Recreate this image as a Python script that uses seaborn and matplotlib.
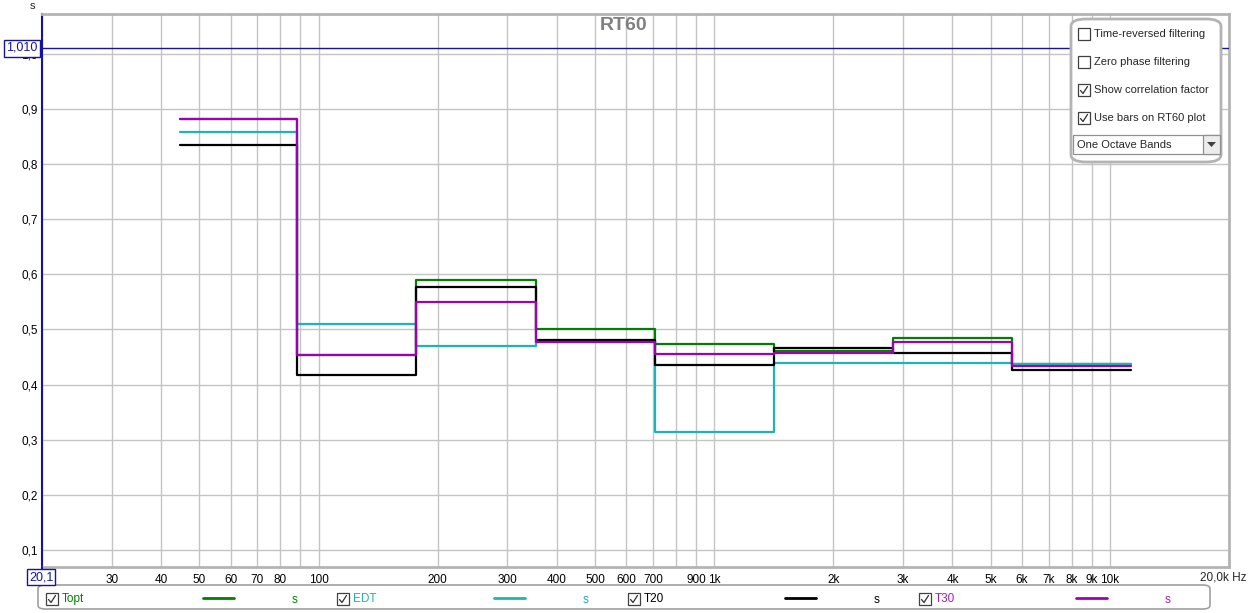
import numpy as np
import pandas as pd
import matplotlib
matplotlib.use("Agg")
import matplotlib.pyplot as plt
import seaborn as sns
from matplotlib.patches import FancyBboxPatch, Rectangle, Polygon
from matplotlib.lines import Line2D

# octave band centres (Hz) and RT60 values (s)
band_centers = [63, 125, 250, 500, 1000, 2000, 4000, 8000]
topt = [0.882, 0.454, 0.590, 0.501, 0.474, 0.460, 0.484, 0.438]
edt = [0.858, 0.510, 0.470, 0.478, 0.314, 0.439, 0.439, 0.437]
t20 = [0.835, 0.417, 0.577, 0.481, 0.435, 0.466, 0.457, 0.426]
t30 = [0.882, 0.454, 0.550, 0.477, 0.455, 0.457, 0.477, 0.433]

series_names = ["Topt", "EDT", "T20", "T30"]
series_values = [topt, edt, t20, t30]
series_colors = ["#007f00", "#1fb4b4", "#000000", "#a000b4"]
text_colors = ["#008000", "#20b0b0", "#000000", "#a020b0"]

x_ticks = [20, 30, 40, 50, 60, 70, 80, 90, 100, 200, 300, 400, 500, 600, 700, 800, 900,
           1000, 2000, 3000, 4000, 5000, 6000, 7000, 8000, 9000, 10000, 20000]
x_labels = ["", "30", "40", "50", "60", "70", "80", "", "100", "200", "300", "400", "500",
            "600", "700", "", "900", "1k", "2k", "3k", "4k", "5k", "6k", "7k", "8k", "9k",
            "10k", ""]
x_end_label = "20,0k Hz"
y_ticks = [0.1, 0.2, 0.3, 0.4, 0.5, 0.6, 0.7, 0.8, 0.9, 1.0]
y_labels = ["0,1", "0,2", "0,3", "0,4", "0,5", "0,6", "0,7", "0,8", "0,9", "1,0"]

# band edges for the bar-style step plot
edges = [c / np.sqrt(2) for c in band_centers] + [band_centers[-1] * np.sqrt(2)]
rows = []
for name, vals in zip(series_names, series_values):
    for e, v in zip(edges, list(vals) + [vals[-1]]):
        rows.append({"series": name, "freq": e, "rt60": v})
df = pd.DataFrame(rows)

W, H = 1248, 613
FS = 8
sns.set_theme(style="white")
plt.rcParams["font.family"] = ["Liberation Sans", "DejaVu Sans"]

fig = plt.figure(figsize=(W / 100, H / 100), dpi=100)
ax = fig.add_axes([42 / W, 1 - 567 / H, (1229 - 42) / W, (567 - 14) / H])

sns.lineplot(data=df, x="freq", y="rt60", hue="series", hue_order=series_names,
             palette=dict(zip(series_names, series_colors)), drawstyle="steps-post",
             estimator=None, sort=True, linewidth=1.6, legend=False, ax=ax)

ax.set_xscale("log")
ax.set_xlim(20.1, 20000)
ax.set_ylim(0.069, 1.072)
ax.set_xticks(x_ticks)
ax.set_xticklabels(x_labels)
ax.xaxis.set_minor_locator(matplotlib.ticker.NullLocator())
ax.set_yticks(y_ticks)
ax.set_yticklabels(y_labels)
ax.tick_params(axis="both", length=0, labelsize=8.5, colors="#000000")
ax.tick_params(axis="x", pad=5)
ax.tick_params(axis="y", pad=3)
ax.set_xlabel("")
ax.set_ylabel("")
ax.grid(True, color="#c4c4c4", linewidth=1)
ax.set_axisbelow(True)
for side in ["top", "right", "bottom"]:
    ax.spines[side].set_color("#b4b4b4")
    ax.spines[side].set_linewidth(2)
ax.spines["left"].set_color("#1414a0")
ax.spines["left"].set_linewidth(1.5)
ax.axhline(1.01, color="#1414a0", linewidth=1, zorder=5)


def px(x, y):
    return x / W, 1 - y / H


# the last frequency label runs past the plot to the figure's right edge
fig.text(*px(1246, 578), x_end_label, fontsize=8.5, ha="right", va="center")

fig.text(*px(624, 26), "RT60", ha="center", va="center", fontsize=14,
         fontweight="bold", color="#808080")

# axis marker boxes and unit label
fig.text(*px(32, 6), "s", fontsize=FS, ha="center", va="center")
fig.text(*px(22, 48), "1,010", fontsize=9, color="#1414a0", ha="center", va="center",
         zorder=20, bbox=dict(boxstyle="square,pad=0.2", fc="white", ec="#1414a0", lw=1))
fig.text(*px(41, 577), "20,1", fontsize=9, color="#1414a0", ha="center", va="center",
         zorder=20, bbox=dict(boxstyle="square,pad=0.15", fc="white", ec="#1414a0", lw=1))
fig.add_artist(Line2D([42 / W, 42 / W], [1 - 567 / H, 1 - 571 / H], color="#1414a0", lw=1.5))


def checkbox(x, y, checked, z=15):
    s = 12
    fig.add_artist(Rectangle(px(x, y + s / 2), s / W, s / H, transform=fig.transFigure,
                             fc="white", ec="#404040", lw=0.9, zorder=z))
    if checked:
        xs = [x + 2.5, x + 5, x + 9.5]
        ys = [y + 0.5, y + 3.5, y - 3.5]
        fig.add_artist(Line2D([a / W for a in xs], [1 - b / H for b in ys],
                              color="#303030", lw=0.9, zorder=z + 1))


# options panel at the top right
fig.add_artist(FancyBboxPatch(px(1071, 162), 150 / W, 143 / H, transform=fig.transFigure,
                              boxstyle="round,pad=0,rounding_size=0.012", fc="white",
                              ec="#b4b4b4", lw=2, zorder=10))
options = [("Time-reversed filtering", False), ("Zero phase filtering", False),
           ("Show correlation factor", True), ("Use bars on RT60 plot", True)]
for i, (label, checked) in enumerate(options):
    yy = 34 + 28 * i
    checkbox(1078, yy, checked)
    fig.text(*px(1094, yy), label, fontsize=FS, va="center", ha="left", zorder=11)
fig.add_artist(Rectangle(px(1073, 154), 147 / W, 19 / H, transform=fig.transFigure,
                         fc="white", ec="#909090", lw=0.9, zorder=11))
fig.add_artist(Rectangle(px(1203, 154), 17 / W, 19 / H, transform=fig.transFigure,
                         fc="#ececec", ec="#909090", lw=0.9, zorder=12))
fig.add_artist(Polygon([px(1207, 142), px(1216, 142), px(1211.5, 147)], closed=True,
                       transform=fig.transFigure, fc="#404040", ec="none", zorder=13))
fig.text(*px(1077, 145), "One Octave Bands", fontsize=FS, va="center", ha="left", zorder=12)

# legend strip along the bottom
fig.add_artist(FancyBboxPatch(px(38, 609), 1172 / W, 24 / H, transform=fig.transFigure,
                              boxstyle="round,pad=0,rounding_size=0.006", fc="white",
                              ec="#a0a0a0", lw=1.2))
for i, name in enumerate(series_names):
    x0 = 46 + 291 * i
    checkbox(x0, 599, True)
    fig.text(*px(x0 + 16, 599), name, fontsize=8.5, color=text_colors[i], va="center")
    fig.add_artist(Line2D([(x0 + 157) / W, (x0 + 188) / W], [1 - 598 / H] * 2,
                          color=series_colors[i], lw=2))
    fig.text(*px(x0 + 249, 600), "s", fontsize=8.5, color=text_colors[i], va="center",
             ha="center")

fig.savefig("out.png", dpi=100)
